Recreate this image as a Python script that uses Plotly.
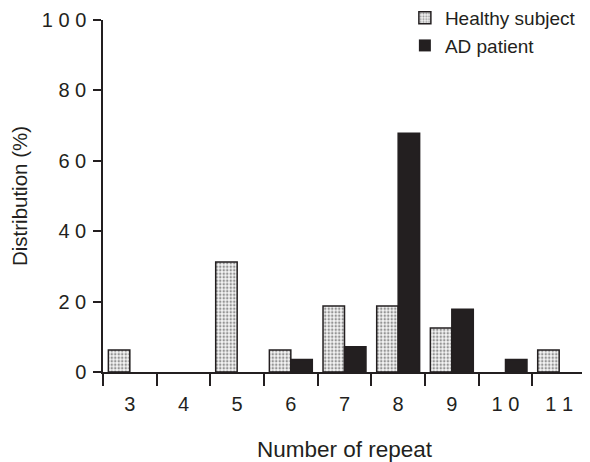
import plotly.graph_objects as go

repeats = ["3", "4", "5", "6", "7", "8", "9", "10", "11"]
repeat_labels = ["3", "4", "5", "6", "7", "8", "9", "1 0", "1 1"]
healthy = [6.25, 0, 31.25, 6.25, 18.75, 18.75, 12.5, 0, 6.25]
ad_patient = [0, 0, 0, 3.57, 7.14, 67.86, 17.86, 3.57, 0]
y_ticks = [0, 20, 40, 60, 80, 100]
y_tick_labels = ["0", "2 0", "4 0", "6 0", "8 0", "1 0 0"]


def outline_widths(values):
    return [0 if v == 0 else 1.5 for v in values]


fig = go.Figure()
fig.add_trace(go.Bar(
    x=repeats, y=healthy, name="Healthy subject",
    marker=dict(color="white", line=dict(color="#231f20", width=outline_widths(healthy)),
                pattern=dict(shape=".", fgcolor="#333", bgcolor="#f4f4f4", size=3.5, solidity=0.4)),
))
fig.add_trace(go.Bar(
    x=repeats, y=ad_patient, name="AD patient",
    marker=dict(color="#231f20", line=dict(color="#231f20", width=outline_widths(ad_patient))),
))

font = "Liberation Sans, Arial, sans-serif"
fig.update_layout(
    width=582, height=454,
    margin=dict(l=95, r=4, t=12, b=90, autoexpand=False),
    paper_bgcolor="white", plot_bgcolor="white",
    barmode="group", bargap=0.2, bargroupgap=0,
    font=dict(family=font, size=20, color="#231f20"),
    showlegend=True,
    legend=dict(x=0.625, y=1.06, xanchor="left", yanchor="top",
                font=dict(size=19), bgcolor="rgba(0,0,0,0)",
                tracegroupgap=4, itemwidth=30),
    xaxis=dict(
        type="category", tickmode="array", tickvals=repeats, ticktext=repeat_labels,
        tickson="boundaries", ticks="outside", ticklen=12, tickwidth=1.5, tickcolor="#231f20",
        showline=True, linecolor="#231f20", linewidth=1.5, showgrid=False, layer="above traces",
        ticklabelstandoff=13,
        title=dict(text="Number of repeat", font=dict(size=22.5), standoff=30),
        tickfont=dict(size=20),
    ),
    yaxis=dict(
        range=[0, 100], tickmode="array", tickvals=y_ticks, ticktext=y_tick_labels,
        ticks="outside", ticklen=8, tickwidth=1.5, tickcolor="#231f20",
        showline=True, linecolor="#231f20", linewidth=1.5, showgrid=False, zeroline=False,
        layer="above traces", ticklabelstandoff=3, ticklabeloverflow="allow",
        title=dict(text="Distribution (%)", font=dict(size=20.5), standoff=10),
        tickfont=dict(size=20),
    ),
)
fig.write_html("out.html")
